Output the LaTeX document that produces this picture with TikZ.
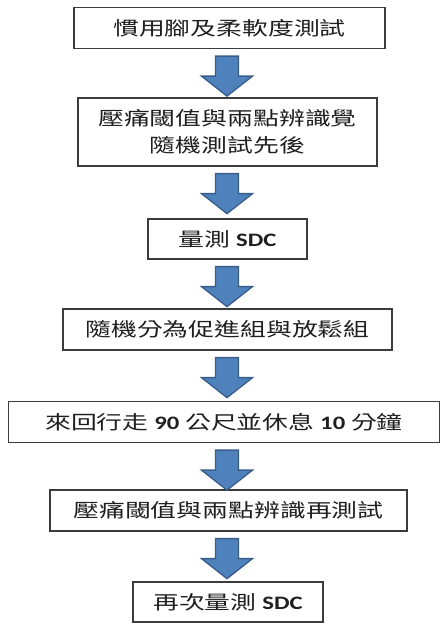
\documentclass[tikz,border=0pt]{standalone}
\usepackage{fontspec}
\usetikzlibrary{calc}
\newfontfamily\cjk[FakeStretch=1.36]{Noto Sans CJK TC}
\newfontfamily\latn[FakeStretch=1.3]{Carlito}
\newcommand\ltn[1]{{\latn\bfseries #1}}
\definecolor{arrowblue}{HTML}{4F81BD}
\definecolor{arrowedge}{HTML}{385D8A}
\definecolor{boxedge}{HTML}{3C3C3C}
\newcommand\blockarrow[2]{%
  \path[barrow] let \p1=($(#1.south)+(0,-7)$), \p2=(axis) in
    (\x2-11.5pt,\y1) -- (\x2+11.5pt,\y1) -- (\x2+11.5pt,\y1-20pt) -- (\x2+25.5pt,\y1-20pt)
    -- (\x2,\y1-40pt) -- (\x2-25.5pt,\y1-20pt) -- (\x2-11.5pt,\y1-20pt) -- cycle;}
\begin{document}
\begin{tikzpicture}[x=1pt,y=1pt,
  stepbox/.style={draw=boxedge,line width=1.3pt,fill=white,inner sep=0pt,align=center,
    font=\cjk\fontsize{19}{27}\selectfont,text=black!88},
  barrow/.style={fill=arrowblue,draw=arrowedge,line width=1.3pt,line join=miter}]
\useasboundingbox (0,0) rectangle (441,624);
\coordinate (axis) at (227,0);
\node[stepbox,minimum width=311pt,minimum height=41pt] (s1) at (229.5,596) {慣用腳及柔軟度測試};
\node[stepbox,minimum width=299pt,minimum height=68pt] (s2) at (227.5,492) {壓痛閾值與兩點辨識覺\\隨機測試先後};
\node[stepbox,minimum width=159pt,minimum height=40pt] (s3) at (227.5,385) {量測 \ltn{SDC}};
\node[stepbox,minimum width=329pt,minimum height=41pt] (s4) at (227.5,294.5) {隨機分為促進組與放鬆組};
\node[stepbox,minimum width=431pt,minimum height=41pt] (s5) at (224,202) {來回行走 \ltn{90} 公尺並休息 \ltn{10} 分鐘};
\node[stepbox,minimum width=357pt,minimum height=41pt] (s6) at (228.5,113.5) {壓痛閾值與兩點辨識再測試};
\node[stepbox,minimum width=190pt,minimum height=40pt] (s7) at (228,22) {再次量測 \ltn{SDC}};
\blockarrow{s1}{s2}
\blockarrow{s2}{s3}
\blockarrow{s3}{s4}
\blockarrow{s4}{s5}
\blockarrow{s5}{s6}
\blockarrow{s6}{s7}
\end{tikzpicture}
\end{document}
